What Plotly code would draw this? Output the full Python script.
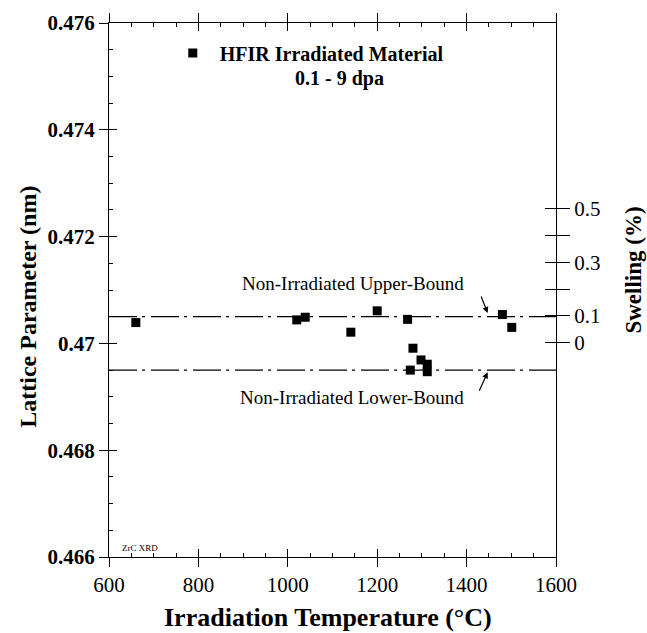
import plotly.graph_objects as go

# ---- data ----
temps = [660, 1020, 1039, 1141, 1200, 1268, 1280, 1298, 1274, 1312, 1312, 1480, 1501]
lattice = [0.47039, 0.47044, 0.47049, 0.47021, 0.47061, 0.47045, 0.46991, 0.46969,
           0.46950, 0.46961, 0.46947, 0.47054, 0.47030]
bound_x = [600, 1600]
upper_bound = 0.4705
lower_bound = 0.4695

x_ticks = [600, 800, 1000, 1200, 1400, 1600]
y_ticks = [0.466, 0.468, 0.470, 0.472, 0.474, 0.476]
y_ticktext = ["0.466", "0.468", "0.47", "0.472", "0.474", "0.476"]
swell_ticks = [0, 0.1, 0.2, 0.3, 0.4, 0.5]
swell_ticktext = ["0", "0.1", "", "0.3", "", "0.5"]
swell_range = [-0.797, 1.19]

FONT = "Liberation Serif"

fig = go.Figure()

fig.add_trace(go.Scatter(
    x=bound_x, y=[upper_bound, upper_bound], mode="lines",
    line=dict(color="black", width=1.3, dash="28px,5px,3px,6px"),
    showlegend=False, hoverinfo="skip"))
fig.add_trace(go.Scatter(
    x=bound_x, y=[lower_bound, lower_bound], mode="lines",
    line=dict(color="black", width=1.3, dash="28px,5px,3px,6px"),
    showlegend=False, hoverinfo="skip"))
fig.add_trace(go.Scatter(
    x=temps, y=lattice, mode="markers",
    marker=dict(symbol="square", size=9, color="black"),
    name="HFIR Irradiated Material", showlegend=True))

axis_common = dict(color="black", linecolor="black", tickcolor="black",
                   showgrid=False, zeroline=False)

fig.update_layout(
    width=647, height=633,
    margin=dict(l=109, r=91, t=23, b=76),
    paper_bgcolor="white", plot_bgcolor="white",
    font=dict(family=FONT, color="black"),
    showlegend=True,
    legend=dict(x=0.127, y=0.944, xanchor="left", yanchor="middle",
                bgcolor="rgba(0,0,0,0)", itemwidth=44,
                font=dict(family=FONT, size=20, weight="bold", color="black")),
    xaxis=dict(range=[600, 1600], tickvals=x_ticks, ticks="outside", ticklen=9,
               tickwidth=1.2, linewidth=1.2, showline=True, mirror="allticks",
               tickfont=dict(family=FONT, size=21), **axis_common),
    xaxis2=dict(range=[600, 1600], overlaying="x", anchor="y", side="bottom",
                tickvals=x_ticks, ticks="inside", ticklen=8, tickwidth=1.2,
                mirror="allticks", showline=False, showticklabels=False,
                minor=dict(ticks="inside", ticklen=4, dtick=50, tick0=600,
                           tickcolor="black", tickwidth=1),
                **axis_common),
    yaxis=dict(range=[0.466, 0.476], tickvals=y_ticks, ticktext=y_ticktext,
               ticks="outside", ticklen=9, tickwidth=1.2, linewidth=1.2,
               showline=True, mirror=True,
               tickfont=dict(family=FONT, size=21, weight="bold"), **axis_common),
    yaxis3=dict(range=[0.466, 0.476], overlaying="y", anchor="x", side="left",
                tickvals=y_ticks, ticks="inside", ticklen=8, tickwidth=1.2,
                showline=False, showticklabels=False,
                minor=dict(ticks="inside", ticklen=4, dtick=0.0005, tick0=0.466,
                           tickcolor="black", tickwidth=1),
                **axis_common),
    yaxis2=dict(range=swell_range, overlaying="y", anchor="x", side="right",
                tickvals=swell_ticks, ticktext=swell_ticktext,
                ticks="outside", ticklen=13, tickwidth=1.3, showline=False,
                tickfont=dict(family=FONT, size=21), **axis_common),
    yaxis4=dict(range=swell_range, overlaying="y", anchor="x", side="right",
                tickvals=swell_ticks, ticks="inside", ticklen=11, tickwidth=1.3,
                showline=False, showticklabels=False, **axis_common),
)

# dummy traces to activate overlay axes
fig.add_trace(go.Scatter(x=[None], y=[None], xaxis="x2", yaxis="y", showlegend=False))
fig.add_trace(go.Scatter(x=[None], y=[None], xaxis="x", yaxis="y3", showlegend=False))
fig.add_trace(go.Scatter(x=[None], y=[None], xaxis="x", yaxis="y2", showlegend=False))
fig.add_trace(go.Scatter(x=[None], y=[None], xaxis="x", yaxis="y4", showlegend=False))

C = dict(xanchor="center", yanchor="middle", showarrow=False,
         xref="paper", yref="paper")
annos = [
    dict(text="0.1 - 9 dpa", x=0.515, y=0.896, font=dict(size=20, weight="bold"), **C),
    dict(text="Irradiation Temperature (°C)", x=0.491, y=-0.113,
         font=dict(size=26, weight="bold"), **C),
    dict(text="Lattice Parameter (nm)", x=-0.182, y=0.468, textangle=-90,
         font=dict(size=24, weight="bold"), **C),
    dict(text="Swelling (%)", x=1.173, y=0.537, textangle=-90,
         font=dict(size=23, weight="bold"), **C),
    dict(text="Non-Irradiated Upper-Bound", x=0.546, y=0.512, font=dict(size=19), **C),
    dict(text="Non-Irradiated Lower-Bound", x=0.544, y=0.298, font=dict(size=19), **C),
    dict(text="ZrC XRD", x=0.069, y=0.017, font=dict(size=9), **C),
    dict(text="", x=1447, y=0.47057, xref="x", yref="y", showarrow=True,
         ax=-7, ay=-18, arrowhead=2, arrowsize=1, arrowwidth=1.2, arrowcolor="black"),
    dict(text="", x=1447, y=0.46946, xref="x", yref="y", showarrow=True,
         ax=-9, ay=20, arrowhead=2, arrowsize=1, arrowwidth=1.2, arrowcolor="black"),
]
fig.update_layout(annotations=annos)

fig.write_html("out.html")
